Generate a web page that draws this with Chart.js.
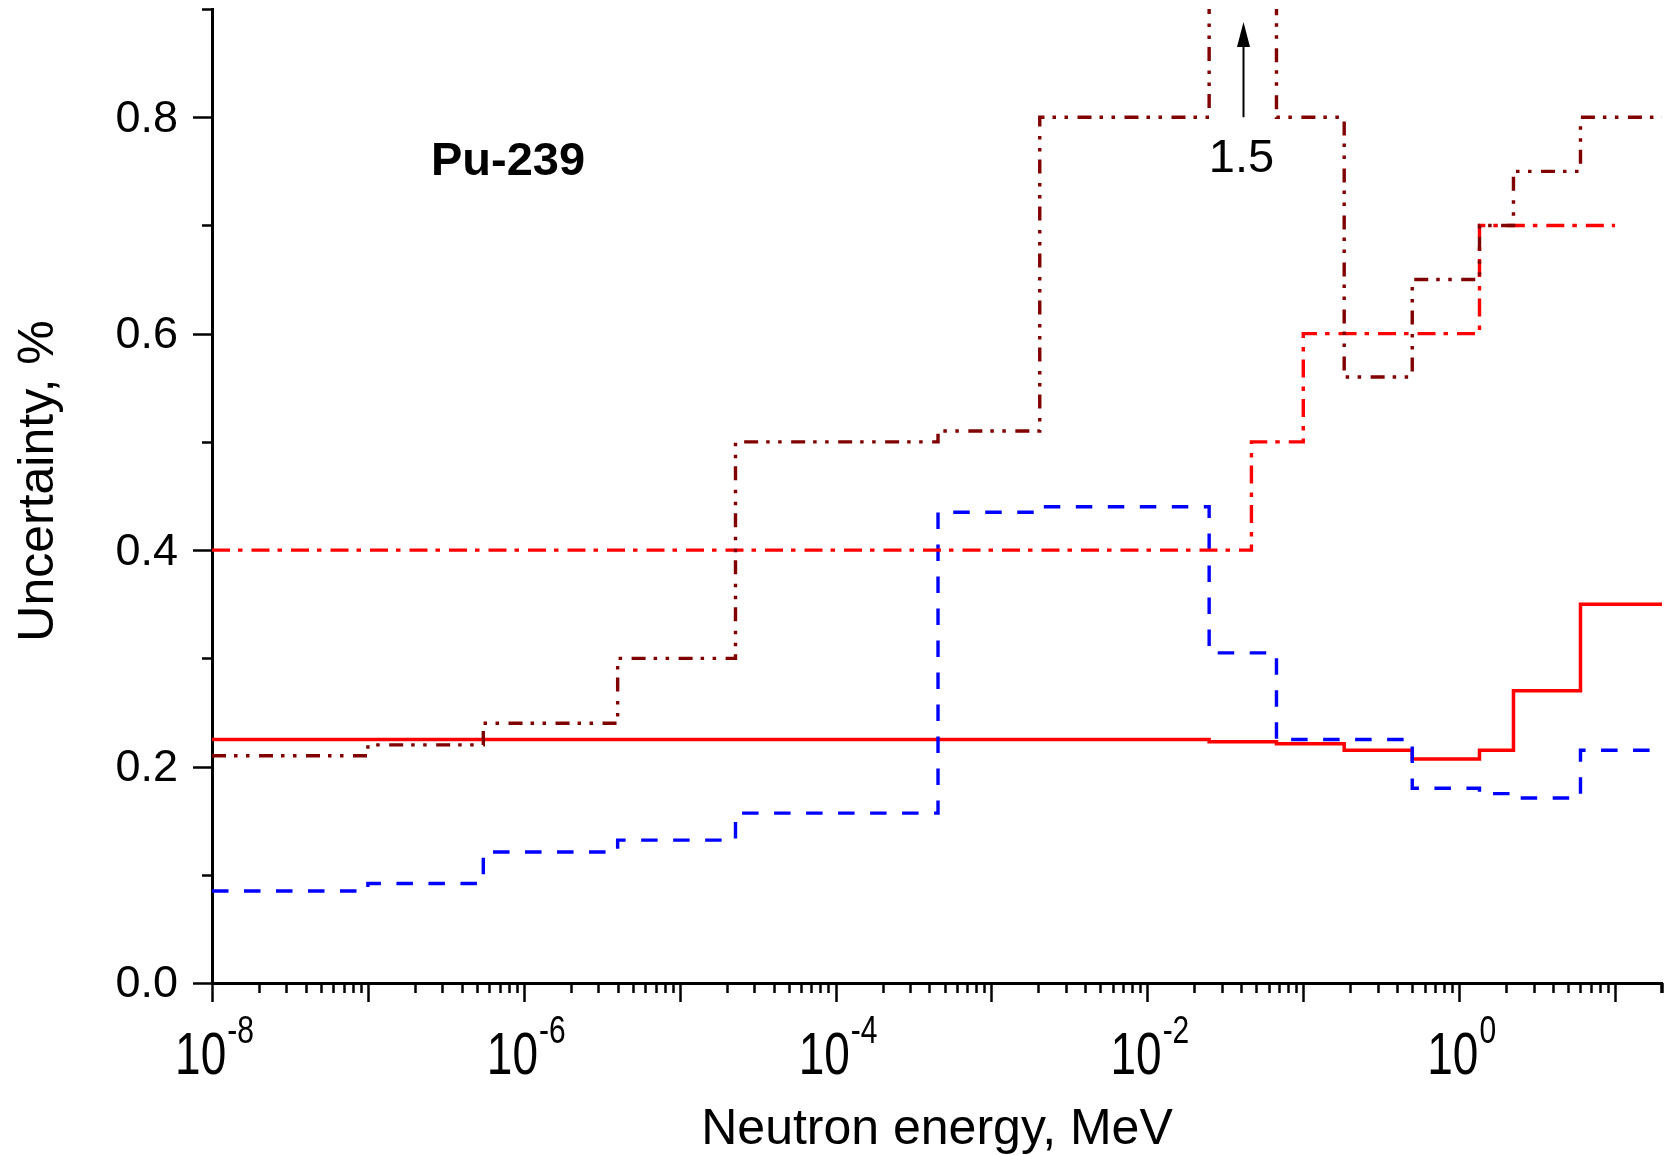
<!DOCTYPE html>
<html><head><meta charset="utf-8">
<script src="https://cdn.jsdelivr.net/npm/chart.js@4/dist/chart.umd.min.js"></script>
<style>html,body{margin:0;padding:0;background:#fff;}#wrap{width:1677px;height:1155px;}</style>
</head><body><div id="wrap"><canvas id="c" width="1677" height="1155"></canvas></div>
<script>
// ---- data ----
const groupEdges = [1e-8, 1e-7, 5.5e-7, 4e-6, 2.28e-5, 4.54e-4, 2.04e-3, 2.49e-2, 6.73e-2, 0.183, 0.5, 1.35, 2.23, 6.0, 20];
const darkRedValues = [0.21, 0.22, 0.24, 0.30, 0.50, 0.51, 0.80, 1.5, 0.80, 0.56, 0.65, 0.70, 0.75, 0.80];
const blueValues = [0.085, 0.092, 0.121, 0.132, 0.157, 0.435, 0.44, 0.305, 0.225, 0.225, 0.18, 0.175, 0.171, 0.215];
const redSolidValues = [0.225, 0.225, 0.225, 0.225, 0.225, 0.225, 0.225, 0.223, 0.221, 0.215, 0.207, 0.215, 0.27, 0.35];
const redDashEdges = [1e-8, 0.0465, 0.1, 1.35, 10];
const redDashValues = [0.4, 0.5, 0.6, 0.7];
const yMajorTicks = [0, 0.2, 0.4, 0.6, 0.8];
const yMinorTicks = [0.1, 0.3, 0.5, 0.7, 0.9];
const yTickLabels = ['0.0', '0.2', '0.4', '0.6', '0.8'];
const xDecades = [-8, -7, -6, -5, -4, -3, -2, -1, 0, 1];
const xLabelExponents = [-8, -6, -4, -2, 0];
const xTitle = 'Neutron energy, MeV';
const yTitle = 'Uncertainty, %';
const plotLabel = 'Pu-239';
const offScaleLabel = '1.5';

function steps(edges, values) {
  return edges.map((e, i) => ({x: e, y: values[Math.min(i, values.length - 1)]}));
}

const FONT = '"Liberation Sans", Arial, sans-serif';

const decorPlugin = {
  id: 'decor',
  afterDraw(chart) {
    const ctx = chart.ctx;
    const xs = chart.scales.x, ys = chart.scales.y;
    const left = chart.chartArea.left, bottom = chart.chartArea.bottom;
    ctx.save();
    ctx.strokeStyle = '#000';
    ctx.fillStyle = '#000';
    ctx.lineWidth = 2.5;
    ctx.lineCap = 'butt';
    // y ticks
    yMajorTicks.forEach(v => {
      const y = Math.round(ys.getPixelForValue(v)) + 0.5;
      ctx.beginPath(); ctx.moveTo(left - 19, y); ctx.lineTo(left, y); ctx.stroke();
    });
    yMinorTicks.forEach(v => {
      const y = Math.round(ys.getPixelForValue(v)) + 0.5;
      ctx.beginPath(); ctx.moveTo(left - 10, y); ctx.lineTo(left, y); ctx.stroke();
    });
    // x ticks
    xDecades.forEach(d => {
      for (let m = 1; m <= 9; m++) {
        const v = m * Math.pow(10, d);
        if (v > xs.max * 1.0001) continue;
        const x = Math.round(xs.getPixelForValue(v)) + 0.5;
        const len = m === 1 ? 19 : 10;
        ctx.beginPath(); ctx.moveTo(x, bottom); ctx.lineTo(x, bottom + len); ctx.stroke();
      }
    });
    const xr = Math.round(xs.getPixelForValue(xs.max)) - 0.5;
    ctx.beginPath(); ctx.moveTo(xr, bottom); ctx.lineTo(xr, bottom + 10); ctx.stroke();

    // y tick labels
    ctx.font = '45px ' + FONT;
    ctx.textAlign = 'right';
    ctx.textBaseline = 'middle';
    yMajorTicks.forEach((v, i) => {
      ctx.fillText(yTickLabels[i], left - 34, ys.getPixelForValue(v) + 2);
    });
    // x tick labels: 10^n
    const stretch = 1.3;
    xLabelExponents.forEach(e => {
      const px = xs.getPixelForValue(Math.pow(10, e));
      ctx.font = '46px ' + FONT;
      const w1 = ctx.measureText('10').width;
      ctx.font = '30px ' + FONT;
      const es = String(e);
      const w2 = ctx.measureText(es).width;
      const x0 = px - (w1 + w2) / 2 + 2;
      ctx.textAlign = 'left';
      ctx.textBaseline = 'alphabetic';
      ctx.save();
      ctx.translate(x0, bottom + 91);
      ctx.scale(1, stretch);
      ctx.font = '46px ' + FONT;
      ctx.fillText('10', 0, 0);
      ctx.restore();
      ctx.save();
      ctx.translate(x0 + w1 + 1, bottom + 60);
      ctx.scale(1, stretch);
      ctx.font = '30px ' + FONT;
      ctx.fillText(es, 0, 0);
      ctx.restore();
    });
    // axis titles
    ctx.font = '50px ' + FONT;
    ctx.textAlign = 'center';
    ctx.textBaseline = 'alphabetic';
    ctx.fillText(xTitle, (chart.chartArea.left + chart.chartArea.right) / 2 + 0, 1144);
    ctx.save();
    ctx.translate(53, 481);
    ctx.rotate(-Math.PI / 2);
    ctx.font = '50px ' + FONT;
    ctx.fillText(yTitle, 0, 0);
    ctx.restore();

    // annotations
    ctx.font = 'bold 47px ' + FONT;
    ctx.textAlign = 'center';
    ctx.fillText(plotLabel, 508, 175);
    const ax = Math.round(xs.getPixelForValue(Math.sqrt(groupEdges[7] * groupEdges[8]))) + 0.5;
    const yBase = ys.getPixelForValue(0.8);
    ctx.lineWidth = 2;
    ctx.beginPath(); ctx.moveTo(ax, yBase); ctx.lineTo(ax, 44); ctx.stroke();
    ctx.beginPath(); ctx.moveTo(ax, 22); ctx.lineTo(ax - 6.5, 47); ctx.lineTo(ax + 6.5, 47); ctx.closePath(); ctx.fill();
    ctx.font = '47px ' + FONT;
    ctx.fillText(offScaleLabel, ax - 2, 172);
    ctx.restore();
  }
};

new Chart(document.getElementById('c'), {
  type: 'line',
  data: {
    datasets: [
      {data: steps(groupEdges, darkRedValues), borderColor: '#800000', borderWidth: 3.4, stepped: true, fill: false,
       borderDash: [14, 8, 3.5, 8.5, 3.5, 9.5]},
      {data: steps(redDashEdges, redDashValues), borderColor: '#ff0000', borderWidth: 3.4, stepped: true, fill: false,
       borderDash: [18, 8, 4.5, 9]},
      {data: steps(groupEdges, blueValues), borderColor: '#0000ff', borderWidth: 3.4, stepped: true, fill: false,
       borderDash: [16.5, 15.5]},
      {data: steps(groupEdges, redSolidValues), borderColor: '#ff0000', borderWidth: 3.5, stepped: true, fill: false}
    ]
  },
  options: {
    responsive: false,
    animation: false,
    devicePixelRatio: 1,
    layout: {padding: {left: 212, right: 15, top: 9, bottom: 172}},
    plugins: {legend: {display: false}, tooltip: {enabled: false}},
    elements: {point: {radius: 0, hoverRadius: 0}, line: {tension: 0, borderCapStyle: 'butt'}},
    scales: {
      x: {type: 'logarithmic', min: 1e-8, max: 20,
          ticks: {display: false}, grid: {display: false, drawTicks: false},
          border: {display: true, color: '#000', width: 3}},
      y: {type: 'linear', min: 0, max: 0.9,
          ticks: {display: false}, grid: {display: false, drawTicks: false},
          border: {display: true, color: '#000', width: 3}}
    }
  },
  plugins: [decorPlugin]
});
</script></body></html>
